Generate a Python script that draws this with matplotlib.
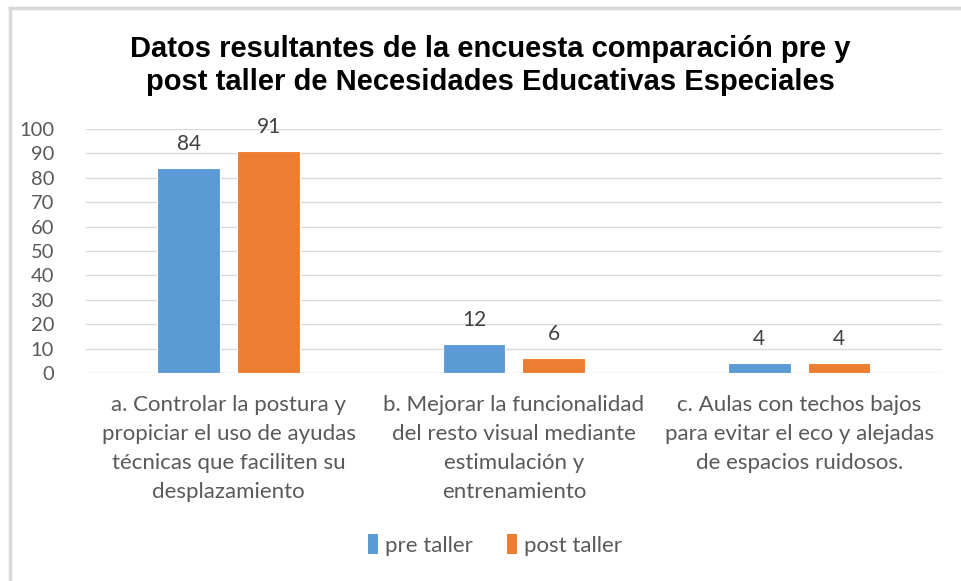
import numpy as np
import matplotlib.pyplot as plt
from matplotlib.lines import Line2D
from matplotlib.patches import Patch

categories = [
    "a. Controlar la postura y\npropiciar el uso de ayudas\ntécnicas que faciliten su\ndesplazamiento",
    "b. Mejorar la funcionalidad\ndel resto visual mediante\nestimulación y\nentrenamiento",
    "c. Aulas con techos bajos\npara evitar el eco y alejadas\nde espacios ruidosos.",
]
pre_taller = [84, 12, 4]
post_taller = [91, 6, 4]
series_names = ["pre taller", "post taller"]
yticks = [0, 10, 20, 30, 40, 50, 60, 70, 80, 90, 100]

blue = "#5B9BD5"
orange = "#ED7D31"
gray = "#595959"
font = "Lato"

fig = plt.figure(figsize=(9.61, 5.81), dpi=100)
ax = fig.add_axes([0.0895, 0.358, 0.8905, 0.42])

x = np.arange(len(categories))
w = 0.22
b1 = ax.bar(x - 0.14, pre_taller, w, color=blue, edgecolor="white", linewidth=0.8, zorder=3)
b2 = ax.bar(x + 0.14, post_taller, w, color=orange, edgecolor="white", linewidth=0.8, zorder=3)
for bars in (b1, b2):
    ax.bar_label(bars, padding=10, fontsize=15, color="#404040", family=font)

ax.set_xlim(-0.5, 2.5)
ax.set_ylim(0, 100)
ax.set_yticks(yticks)
ax.set_yticklabels([str(t) for t in yticks], fontsize=14.5, color=gray, family=font)
ax.yaxis.grid(True, color="#D9D9D9", linewidth=1, zorder=0)
ax.tick_params(axis="y", length=0, pad=23)
ax.tick_params(axis="x", length=0, pad=16)
ax.set_xticks(x)
ax.set_xticklabels(categories, fontsize=16, color=gray, family=font, linespacing=1.55)
for s in ax.spines.values():
    s.set_visible(False)

fig.suptitle("Datos resultantes de la encuesta comparación pre y\npost taller de Necesidades Educativas Especiales",
             x=0.51, y=0.94, fontsize=21, fontweight="bold", family="Liberation Sans",
             linespacing=1.25)

handles = [Patch(facecolor=c, edgecolor="none") for c in (blue, orange)]
fig.legend(handles, series_names, loc="center", bbox_to_anchor=(0.515, 0.062), ncol=2, frameon=False,
           prop={"family": font, "size": 16}, labelcolor=gray, handlelength=0.45, handleheight=1.0,
           handletextpad=0.35, columnspacing=1.5)

# light frame lines along the top and left edge
fig.add_artist(Line2D([0.0105, 1.0], [0.987, 0.987], color="#D9D9D9", linewidth=2.5, transform=fig.transFigure))
fig.add_artist(Line2D([0.0105, 0.0105], [0.0, 0.987], color="#D9D9D9", linewidth=2.5, transform=fig.transFigure))

fig.savefig("out.png", dpi=100)
